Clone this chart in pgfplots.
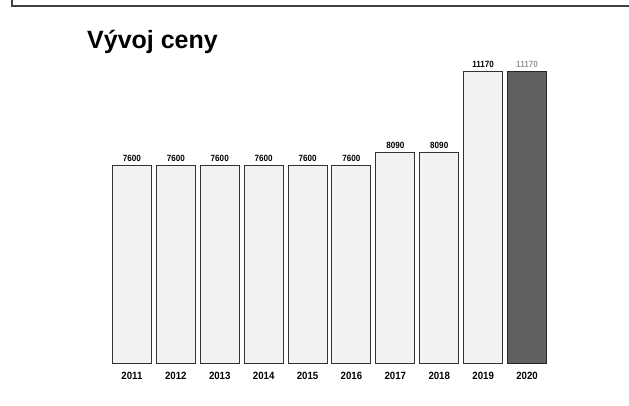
\documentclass[border=0pt]{standalone}
\usepackage{pgfplots}
\pgfplotsset{compat=1.18}
\usepackage{fontspec}
\setmainfont{Liberation Sans}
\begin{document}
\begin{tikzpicture}[x=1pt,y=1pt]
\path[use as bounding box] (0,0) rectangle (629,406);
\fill[white] (0,0) rectangle (629,406);
\draw[line width=1.8pt, black!75] (12,406) -- (12,400) -- (629,400);
\node[anchor=west, font=\bfseries\fontsize{25}{29}\selectfont, inner sep=0] at (87,364) {Vývoj ceny};
\begin{axis}[
  at={(110pt,42pt)}, anchor=south west,
  scale only axis, width=439pt, height=292.4pt,
  xmin=-0.5, xmax=9.5, ymin=0, ymax=11170,
  clip=false,
  axis line style={draw=none},
  ytick=\empty,
  xtick={0,...,9},
  major tick length=0pt,
  xticklabels={2011,2012,2013,2014,2015,2016,2017,2018,2019,2020},
  xticklabel style={font=\bfseries\fontsize{10.5}{12}\selectfont, yshift=-5pt, xscale=0.92},
  /pgf/number format/.cd, 1000 sep={}, assume math mode=true, /pgfplots/.cd,
  ybar, bar width=39pt, bar shift=0pt,
  nodes near coords,
  nodes near coords style={font=\bfseries\fontsize{9}{10}\selectfont, xscale=0.9},
]
\addplot[draw=black!80, line width=1pt, fill=black!5] coordinates {
(0,7600) (1,7600) (2,7600) (3,7600) (4,7600) (5,7600) (6,8090) (7,8090) (8,11170)};
\addplot[draw=black!85, line width=1pt, fill=black!62,
  nodes near coords style={text=black!40}] coordinates {(9,11170)};
\end{axis}
\end{tikzpicture}
\end{document}
